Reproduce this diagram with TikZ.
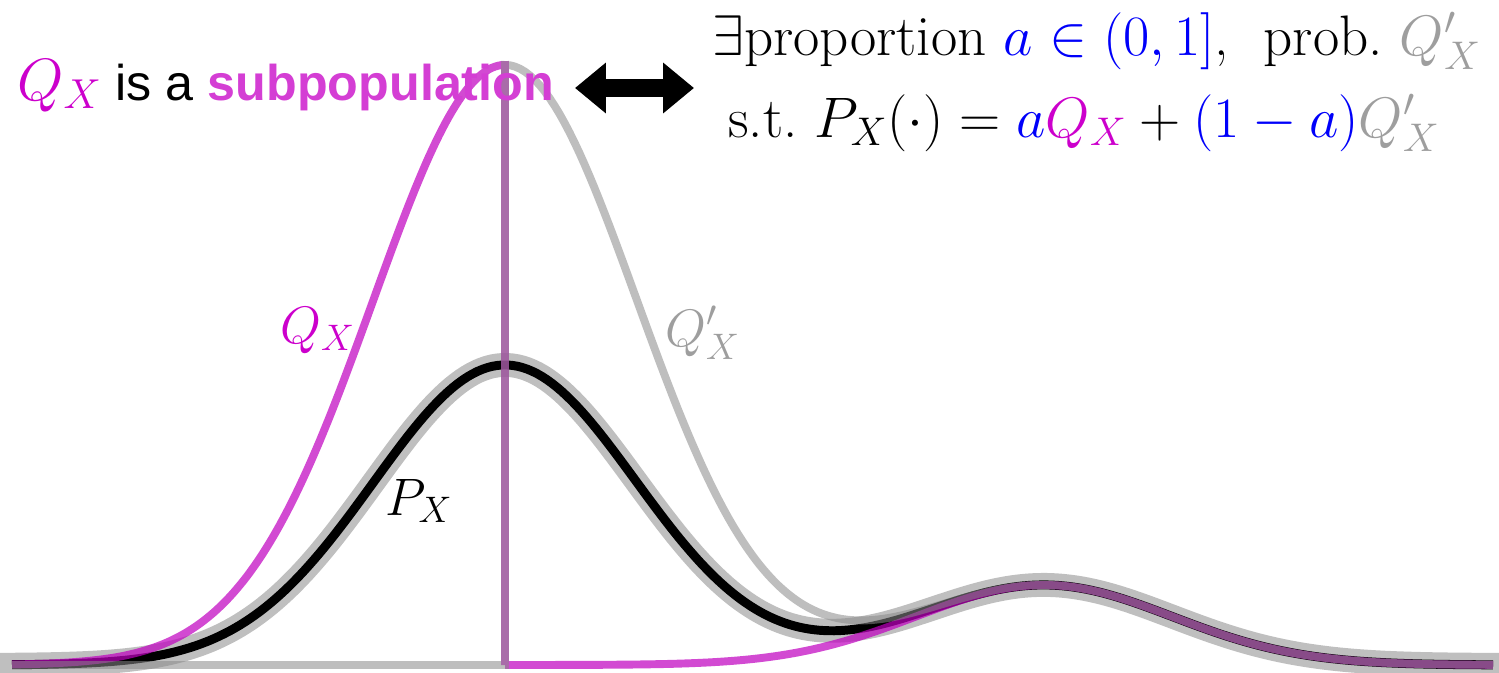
\RequirePackage{fix-cm}
\documentclass[tikz,border=0pt]{standalone}
\usepackage{fontspec}
\setsansfont{Liberation Sans}
\usetikzlibrary{arrows.meta}
\definecolor{qline}{rgb}{0.75,0,0.75}
\definecolor{qtext}{RGB}{204,0,204}
\definecolor{subtext}{RGB}{212,62,212}
\definecolor{qpline}{gray}{0.536}
\definecolor{halo}{gray}{0.75}
\definecolor{qptext}{gray}{0.62}
\definecolor{ablue}{RGB}{0,0,250}
\begin{document}
\begin{tikzpicture}[x=0.02cm,y=-0.02cm,
  declare function={
    nA(\t)=300*exp(-0.5*((\t-505)/132)*((\t-505)/132));
    nB(\t)=80*exp(-0.5*((\t-1044)/128)*((\t-1044)/128));
  },
  halostyle/.style={draw=halo, line width=13.6pt, line cap=rect},
  pstyle/.style={draw=black, line width=5.1pt},
  qstyle/.style={draw=qline, line width=4.5pt, draw opacity=0.71},
  qpstyle/.style={draw=qpline, line width=4.5pt, draw opacity=0.55},
  lbl/.style={inner sep=0pt, anchor=base west, font=\fontsize{30}{36}\selectfont},
  formula/.style={inner sep=0pt, anchor=base west, font=\fontsize{32.5}{39}\selectfont},
  bigarrow/.style={line width=10.2pt, {Triangle[length=17.6pt,width=27.8pt]}-{Triangle[length=17.6pt,width=27.8pt]}}
]
\useasboundingbox (0,0) rectangle (1499,673);
% P_X halo and curve
\draw[halostyle] plot[domain=12:1493, samples=300] (\x,{665-nA(\x)-nB(\x)});
\draw[pstyle] plot[domain=12:1493, samples=300] (\x,{665-nA(\x)-nB(\x)});
% Q_X
\draw[qstyle] plot[domain=12:505, samples=150] (\x,{665-2*nA(\x)-nB(\x)}) -- (505,665) -- plot[domain=505:1493, samples=200] (\x,{665-nB(\x)});
% Q'_X
\draw[qpstyle] (12,665) -- (505,665) -- plot[domain=505:1493, samples=200] (\x,{665-2*nA(\x)-nB(\x)});
% curve labels
\node[lbl] (qlab) at (280,343) {$\textcolor{qtext}{Q_X}$};
\node[lbl] (qplab) at (665,346) {$\textcolor{qptext}{Q'_X}$};
\node[lbl] (plab) at (385,515) {$P_X$};
% title
\node[lbl] (title) at (17,100) {\fontsize{34}{40}\selectfont$\textcolor{qtext}{Q_X}$\fontsize{28.6}{34}\selectfont\sffamily\ is a \textbf{\textcolor{subtext}{subpopulation}}};
\coordinate (arrowL) at (575,88);
\coordinate (arrowR) at (694,88);
\draw[bigarrow] (arrowL) -- (arrowR);
\node[formula] (line1) at (712,55) {$\exists$proportion $\textcolor{ablue}{a\in(0,1]}$,\ \ prob.\ $\textcolor{qptext}{Q'_X}$};
\node[formula] (line2) at (728,137) {s.t.\ $P_X(\cdot)=\textcolor{ablue}{a}\textcolor{qtext}{Q_X}+\textcolor{ablue}{(1-a)}\textcolor{qptext}{Q'_X}$};
\end{tikzpicture}
\end{document}
